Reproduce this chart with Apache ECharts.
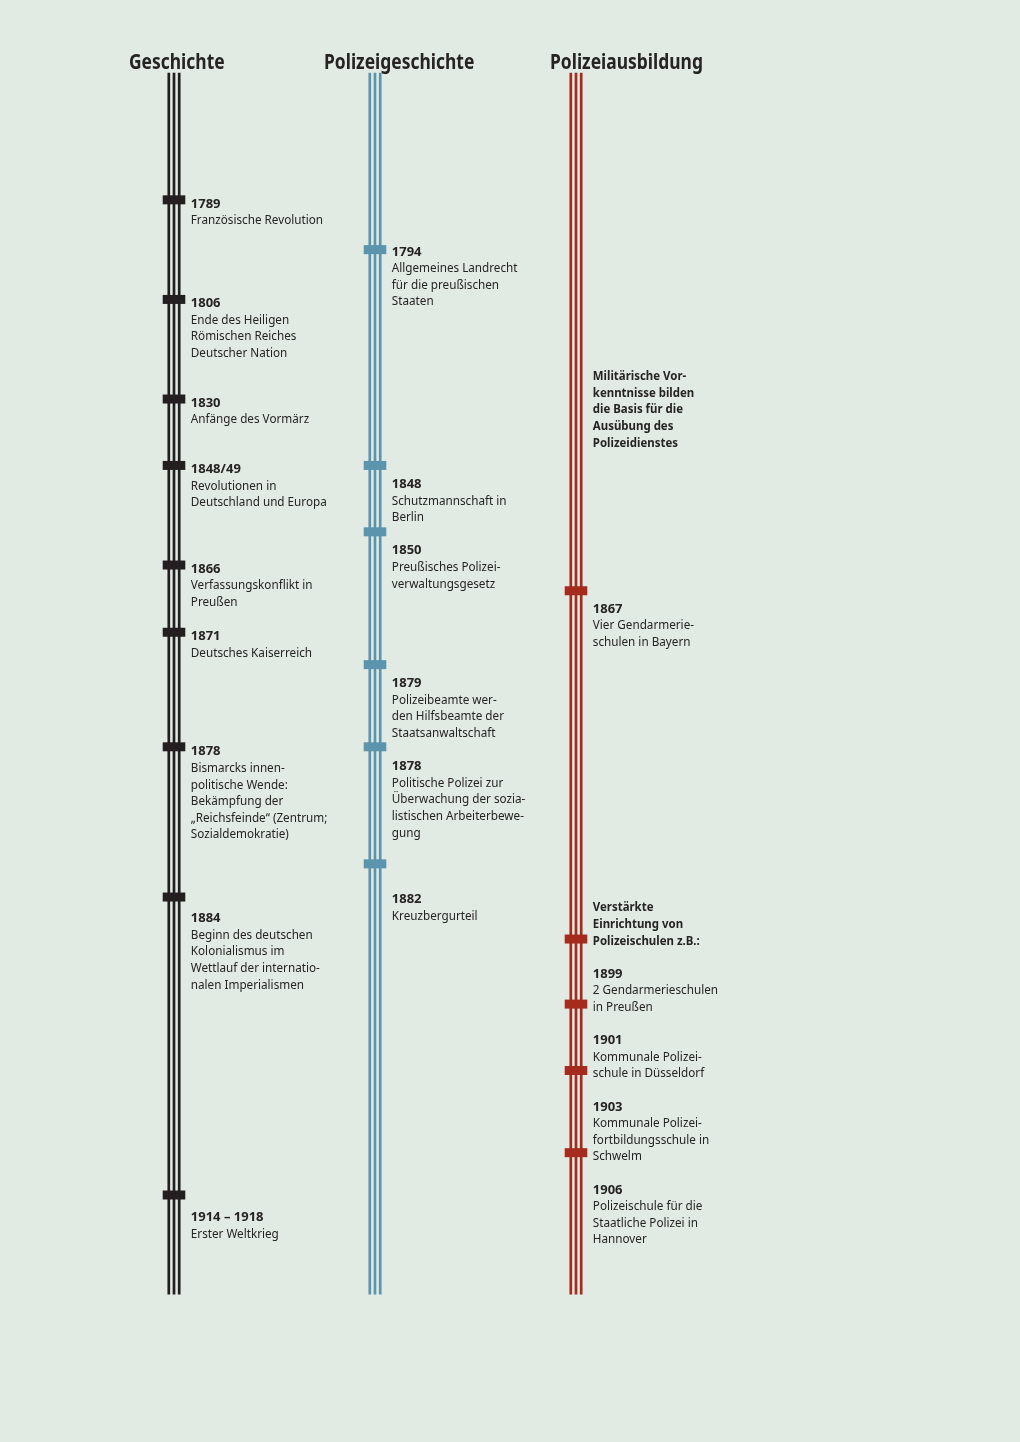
<!DOCTYPE html>
<html><head><meta charset="utf-8">
<script src="https://cdn.jsdelivr.net/npm/echarts@6/dist/echarts.min.js"></script>
<style>html,body{margin:0;padding:0;background:#e1ebe4;}#c{width:1020px;height:1442px;}</style>
</head><body><div id="c"></div><script>
// Columns (category axis) and colours
const columns = ['Geschichte', 'Polizeigeschichte', 'Polizeiausbildung'];
const columnColors = ['#231f20', '#5c93ad', '#a52b1d'];
// vertical extent of the timeline rails, in text rows
const railSpan = [0.4, 74];
// tick positions (rows) for each column
const ticksGeschichte = [8.05, 14.05, 20.05, 24.05, 30.05, 34.1, 41.0, 50.05, 68.0];
const ticksPolizeigeschichte = [11.05, 24.05, 28.05, 36.05, 41.0, 48.05];
const ticksPolizeiausbildung = [31.6, 52.58, 56.5, 60.5, 65.45];
// text blocks: [row of first line, year (bold), description lines, whole block bold]
const eventsGeschichte = [
  [8.2, '1789', ['Französische Revolution']],
  [14.2, '1806', ['Ende des Heiligen', 'Römischen Reiches', 'Deutscher Nation']],
  [20.2, '1830', ['Anfänge des Vormärz']],
  [24.2, '1848/49', ['Revolutionen in', 'Deutschland und Europa']],
  [30.2, '1866', ['Verfassungskonflikt in', 'Preußen']],
  [34.25, '1871', ['Deutsches Kaiserreich']],
  [41.2, '1878', ['Bismarcks innen-', 'politische Wende:', 'Bekämpfung der', '„Reichsfeinde“ (Zentrum;', 'Sozialdemokratie)']],
  [51.25, '1884', ['Beginn des deutschen', 'Kolonialismus im', 'Wettlauf der internatio-', 'nalen Imperialismen']],
  [69.25, '1914 – 1918', ['Erster Weltkrieg']]
];
const eventsPolizeigeschichte = [
  [11.1, '1794', ['Allgemeines Landrecht', 'für die preußischen', 'Staaten']],
  [25.1, '1848', ['Schutzmannschaft in', 'Berlin']],
  [29.1, '1850', ['Preußisches Polizei-', 'verwaltungsgesetz']],
  [37.1, '1879', ['Polizeibeamte wer-', 'den Hilfsbeamte der', 'Staatsanwaltschaft']],
  [42.1, '1878', ['Politische Polizei zur', 'Überwachung der sozia-', 'listischen Arbeiterbewe-', 'gung']],
  [50.1, '1882', ['Kreuzbergurteil']]
];
const eventsPolizeiausbildung = [
  [18.6, '', ['Militärische Vor-', 'kenntnisse bilden', 'die Basis für die', 'Ausübung des', 'Polizeidienstes'], true],
  [32.6, '1867', ['Vier Gendarmerie-', 'schulen in Bayern']],
  [50.6, '', ['Verstärkte', 'Einrichtung von', 'Polizeischulen z.B.:'], true],
  [54.6, '1899', ['2 Gendarmerieschulen', 'in Preußen']],
  [58.6, '1901', ['Kommunale Polizei-', 'schule in Düsseldorf']],
  [62.6, '1903', ['Kommunale Polizei-', 'fortbildungsschule in', 'Schwelm']],
  [67.6, '1906', ['Polizeischule für die', 'Staatliche Polizei in', 'Hannover']]
];

const FONT = "'Noto Sans', sans-serif";
const ROW_PX = 16.6;
const TEXT_COLOR = '#262323';

const tickData = [];
[ticksGeschichte, ticksPolizeigeschichte, ticksPolizeiausbildung].forEach((arr, c) => arr.forEach(r => tickData.push([c, r])));
const railData = columns.map((_, c) => [c, railSpan[0], railSpan[1]]);
const textData = [];
const textInfo = [];
[eventsGeschichte, eventsPolizeigeschichte, eventsPolizeiausbildung].forEach((arr, c) => arr.forEach(e => {
  textData.push([c, e[0], textInfo.length]);
  textInfo.push(e);
}));

const headerX = [129, 324, 550];
const chart = echarts.init(document.getElementById('c'), null, {renderer: 'canvas'});
chart.setOption({
  backgroundColor: '#e1ebe4',
  animation: false,
  graphic: columns.map((name, i) => ({
    type: 'text', x: headerX[i], y: 63.5, scaleX: 0.83,
    style: {text: name, fontFamily: FONT, fontSize: 21, fontWeight: 'bold', fill: TEXT_COLOR, verticalAlign: 'middle', align: 'left'}
  })),
  grid: {left: 73.5, width: 603, top: 66.2, height: 74 * ROW_PX},
  xAxis: {type: 'category', data: columns, show: false},
  yAxis: {type: 'value', inverse: true, min: 0, max: 74, show: false},
  series: [
    {
      type: 'custom', data: railData, z: 1,
      renderItem(params, api) {
        const c = api.value(0);
        const a = api.coord([c, api.value(1)]);
        const b = api.coord([c, api.value(2)]);
        const children = [-5.2, 0, 5.2].map(o => ({
          type: 'rect',
          shape: {x: a[0] + o - 1.35, y: a[1], width: 2.7, height: b[1] - a[1]},
          style: {fill: columnColors[c]}
        }));
        return {type: 'group', children};
      }
    },
    {
      type: 'custom', data: tickData, z: 2,
      renderItem(params, api) {
        const c = api.value(0);
        const p = api.coord([c, api.value(1)]);
        return {type: 'rect', shape: {x: p[0] - 11.3, y: p[1] - 4.5, width: 22.6, height: 9}, style: {fill: columnColors[c]}};
      }
    },
    {
      type: 'custom', data: textData, z: 3,
      renderItem(params, api) {
        const c = api.value(0);
        const p = api.coord([c, api.value(1)]);
        const e = textInfo[api.value(2)];
        const x0 = p[0] + 16.8;
        const y0 = p[1] - ROW_PX / 2 + 1.5;
        const children = [];
        let boldLines = [], regLines = [];
        if (e[3]) boldLines = e[2]; else { boldLines = [e[1]]; regLines = e[2]; }
        children.push({
          type: 'text', x: x0, y: y0, scaleX: e[3] ? 0.88 : 1.0,
          style: {text: boldLines.join('\n'), fontFamily: FONT, fontSize: 13, fontWeight: 'bold', lineHeight: ROW_PX, fill: TEXT_COLOR, align: 'left', verticalAlign: 'top'}
        });
        if (regLines.length) children.push({
          type: 'text', x: x0, y: y0 + ROW_PX * boldLines.length, scaleX: 0.9,
          style: {text: regLines.join('\n'), fontFamily: FONT, fontSize: 13, lineHeight: ROW_PX, fill: TEXT_COLOR, align: 'left', verticalAlign: 'top'}
        });
        return {type: 'group', children};
      }
    }
  ]
});
</script></body></html>
